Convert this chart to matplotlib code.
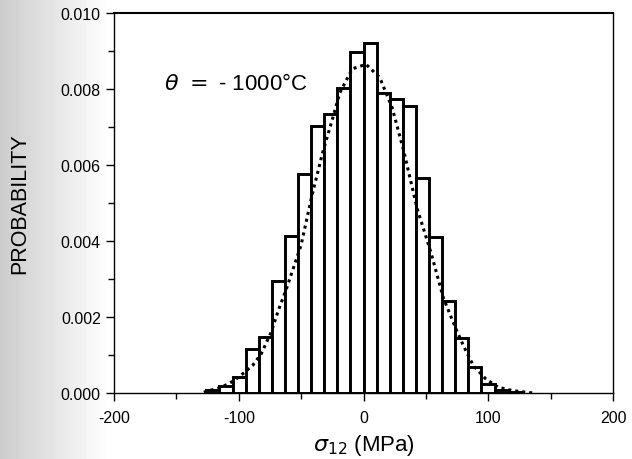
import numpy as np
import matplotlib
matplotlib.use("Agg")
import matplotlib.pyplot as plt
from matplotlib.ticker import MultipleLocator, FormatStrFormatter

plt.rcParams['font.family'] = ['Liberation Sans', 'DejaVu Sans']
plt.rcParams['mathtext.fontset'] = 'dejavusans'
plt.rcParams['axes.unicode_minus'] = False

# histogram, bin width 10.5 MPa, left edges
bin_left = [-126, -115.5, -105, -94.5, -84, -73.5, -63, -52.5, -42, -31.5, -21, -10.5,
            0, 10.5, 21, 31.5, 42, 52.5, 63, 73.5, 84, 94.5, 105, 115.5]
prob = [0.00007, 0.00019, 0.00043, 0.00116, 0.00148, 0.00295, 0.00413, 0.00577,
        0.00702, 0.00733, 0.00803, 0.00898, 0.00921, 0.00790, 0.00774, 0.00755,
        0.00567, 0.00410, 0.00242, 0.00145, 0.00068, 0.00024, 0.00007, 0.00002]
bin_w = 10.5

# dotted fit curve
fit_x = [-128, -124, -114, -104, -97, -89, -82, -74, -68, -62, -50, -42, -33, -25, -19,
         -9, 2, 13, 23, 32, 43, 54, 64, 74, 80, 88, 98, 108, 120, 136]
fit_y = [0.00002, 0.00006, 0.00015, 0.00032, 0.0005, 0.00072, 0.00103, 0.0016, 0.0022,
         0.00272, 0.0039, 0.0051, 0.0063, 0.0072, 0.0079, 0.00853, 0.00865, 0.0083,
         0.0075, 0.0064, 0.00485, 0.0037, 0.0025, 0.00169, 0.00125, 0.00072, 0.00037,
         0.00015, 0.00006, 0.0]

fig = plt.figure(figsize=(6.32, 4.60), dpi=100)

# grey scan shading on the left edge
bg = fig.add_axes([0, 0, 1, 1], zorder=-5)
grad = np.linspace(0.80, 1.0, 110)
img = np.ones((10, 632))
img[:, :110] = grad
bg.imshow(img, cmap='gray', vmin=0, vmax=1, aspect='auto', extent=[0, 1, 0, 1])
bg.axis('off')

ax = fig.add_axes([0.1804, 0.1435, 0.7896, 0.8261])
ax.patch.set_alpha(0)
ax.bar(bin_left, prob, width=bin_w, align='edge', facecolor='white',
       edgecolor='black', linewidth=2.1, zorder=2)
ax.plot(fit_x, fit_y, color='black', linestyle=(0, (1, 1.3)), linewidth=2.2, zorder=3)

ax.set_xlim(-200, 200)
ax.set_ylim(0, 0.010)
ax.xaxis.set_major_locator(MultipleLocator(100))
ax.xaxis.set_minor_locator(MultipleLocator(50))
ax.yaxis.set_major_locator(MultipleLocator(0.002))
ax.yaxis.set_minor_locator(MultipleLocator(0.001))
ax.yaxis.set_major_formatter(FormatStrFormatter('%.3f'))
ax.tick_params(which='both', direction='out', labelsize=11.5, width=1, colors='black')
ax.tick_params(which='major', length=6)
ax.tick_params(which='minor', length=4)
ax.tick_params(axis='x', pad=6)
for s in ax.spines.values():
    s.set_linewidth(1.0)
ax.spines['top'].set_linewidth(1.5)

ax.set_xlabel(r'$\sigma_{12}$ (MPa)', fontsize=16, labelpad=5)
ax.set_ylabel('PROBABILITY', fontsize=15.5, labelpad=22)
ax.text(-160, 0.00815, r'$\theta\ =$ - 1000°C', fontsize=16, va='center', ha='left')

fig.savefig('out.png', dpi=100)
